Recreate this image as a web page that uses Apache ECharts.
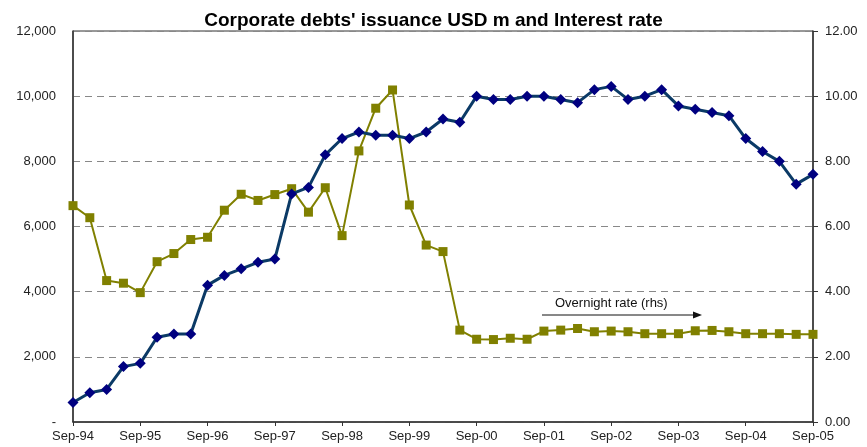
<!DOCTYPE html>
<html><head><meta charset="utf-8">
<script src="https://cdn.jsdelivr.net/npm/echarts@6/dist/echarts.min.js"></script>
<style>html,body{margin:0;padding:0;background:#fff}#c{width:867px;height:447px}</style>
</head><body><div id="c"></div>
<script>
const years = ['94','95','96','97','98','99','00','01','02','03','04','05'];
const quarters = ['Sep','Dec','Mar','Jun'];
const categories = [];
for (let i = 0; i < 45; i++) {
  const yIdx = Math.floor(i / 4) + (i % 4 >= 2 ? 1 : 0);
  categories.push(quarters[i % 4] + '-' + years[yIdx]);
}
const issuance = [600,900,1000,1700,1800,2600,2700,2700,4200,4500,4700,4900,5000,7000,7200,8200,8700,8900,8800,8800,8700,8900,9300,9200,10000,9900,9900,10000,10000,9900,9800,10200,10300,9900,10000,10200,9700,9600,9500,9400,8700,8300,8000,7300,7600];
const overnightRate = [6.64,6.27,4.34,4.26,3.97,4.92,5.17,5.60,5.67,6.50,6.99,6.80,6.98,7.16,6.44,7.19,5.72,8.32,9.63,10.19,6.66,5.43,5.23,2.82,2.54,2.53,2.57,2.54,2.79,2.82,2.87,2.77,2.79,2.77,2.71,2.71,2.71,2.80,2.81,2.77,2.71,2.71,2.71,2.69,2.69];
const titleText = "Corporate debts' issuance USD m and Interest rate";
const noteText = 'Overnight rate (rhs)';

const F = '"Liberation Sans", Arial, sans-serif';
const chart = echarts.init(document.getElementById('c'));
chart.setOption({
  animation: false,
  title: { text: titleText, left: 'center', top: 6, textStyle: { fontFamily: F, fontSize: 19, fontWeight: 'bold', color: '#000' } },
  grid: { left: 73, right: 54, top: 31, bottom: 25, show: true, borderColor: '#333', borderWidth: 1 },
  xAxis: {
    type: 'category', data: categories, boundaryGap: false,
    axisLine: { lineStyle: { color: '#333', width: 1.5 } },
    axisTick: { interval: 3, length: 4, lineStyle: { color: '#333' } },
    axisLabel: { interval: 3, fontFamily: F, fontSize: 13, color: '#222', margin: 8 },
    splitLine: { show: false }
  },
  yAxis: [
    { type: 'value', min: 0, max: 12000, interval: 2000,
      axisLine: { show: true, lineStyle: { color: '#333', width: 1.5 } },
      axisTick: { show: false },
      axisLabel: { fontFamily: F, fontSize: 13, color: '#222', margin: 17,
        formatter: v => v === 0 ? '-' : v.toLocaleString('en-US') },
      splitLine: { show: true, lineStyle: { color: '#888', type: [7, 5], width: 1 } } },
    { type: 'value', min: 0, max: 12, interval: 2, position: 'right',
      axisLine: { show: true, lineStyle: { color: '#333', width: 1.5 } },
      axisTick: { show: true, inside: false, length: 5, lineStyle: { color: '#333' } },
      axisLabel: { fontFamily: F, fontSize: 13, color: '#222', margin: 12, formatter: v => v.toFixed(2) },
      splitLine: { show: false } }
  ],
  series: [
    { type: 'line', name: 'Issuance', data: issuance, yAxisIndex: 0, showAllSymbol: true,
      lineStyle: { color: '#0b3a66', width: 3 },
      symbol: 'diamond', symbolSize: 11, itemStyle: { color: '#000080' }, z: 3 },
    { type: 'line', name: 'Overnight rate', data: overnightRate, yAxisIndex: 1, showAllSymbol: true,
      lineStyle: { color: '#808000', width: 2 },
      symbol: 'rect', symbolSize: 9, itemStyle: { color: '#808000' }, z: 2 }
  ],
  graphic: [
    { type: 'text', left: 555, top: 297, style: { text: noteText, font: '13px ' + F, fill: '#111' } },
    { type: 'line', shape: { x1: 542, y1: 315, x2: 694, y2: 315 }, style: { stroke: '#111', lineWidth: 1 } },
    { type: 'polygon', shape: { points: [[702, 315], [693, 311.5], [693, 318.5]] }, style: { fill: '#111' } }
  ]
});
</script></body></html>
